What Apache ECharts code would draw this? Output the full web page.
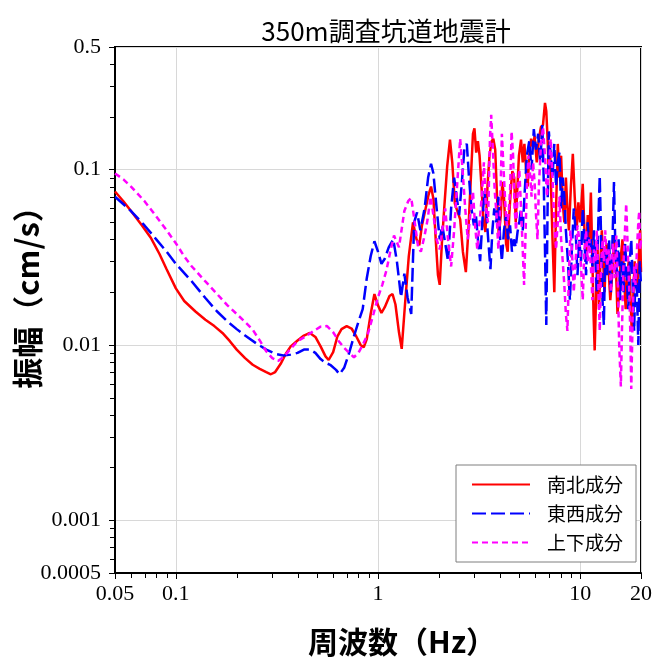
<!DOCTYPE html>
<html>
<head>
<meta charset="utf-8">
<script src="https://cdn.jsdelivr.net/npm/echarts@6/dist/echarts.min.js"></script>
<style>
html,body{margin:0;padding:0;background:#fff}
#chart{width:656px;height:657px}
</style>
</head>
<body>
<div id="chart"></div>
<script>
// Fourier amplitude spectra of the seismometer in the 350 m research gallery
const chartTitle = '350m調査坑道地震計';
const xAxisTitle = '周波数（Hz）';
const yAxisTitle = '振幅（cm/s）';
const seriesNames = ['南北成分', '東西成分', '上下成分'];

// [frequency (Hz), amplitude (cm/s)]
const nsData = [[0.05,0.075],[0.055,0.066],[0.06,0.058],[0.068,0.048],[0.075,0.041],[0.083,0.033],[0.09,0.027],[0.1,0.021],[0.11,0.0178],[0.125,0.0155],[0.14,0.0139],[0.155,0.0128],[0.17,0.0117],[0.185,0.0105],[0.2,0.0094],[0.22,0.0084],[0.24,0.0077],[0.26,0.0073],[0.28,0.0070],[0.295,0.0068],[0.31,0.0070],[0.33,0.0078],[0.35,0.0089],[0.37,0.0098],[0.4,0.0106],[0.43,0.0113],[0.46,0.0117],[0.49,0.0111],[0.52,0.0098],[0.55,0.0086],[0.57,0.0082],[0.6,0.0091],[0.63,0.0112],[0.66,0.0123],[0.7,0.0128],[0.74,0.0124],[0.78,0.0112],[0.82,0.0100],[0.85,0.0097],[0.88,0.0108],[0.92,0.0150],[0.96,0.0195],[1.0,0.0168],[1.04,0.0152],[1.08,0.0164],[1.14,0.0190],[1.18,0.0195],[1.22,0.0170],[1.27,0.0118],[1.31,0.0095],[1.36,0.0170],[1.42,0.032],[1.49,0.050],[1.55,0.040],[1.6,0.037],[1.65,0.048],[1.72,0.060],[1.78,0.072],[1.83,0.080],[1.88,0.068],[1.93,0.040],[1.98,0.025],[2.02,0.022],[2.07,0.038],[2.13,0.062],[2.2,0.105],[2.27,0.148],[2.33,0.110],[2.4,0.064],[2.47,0.058],[2.55,0.052],[2.63,0.034],[2.72,0.026],[2.8,0.045],[2.88,0.090],[2.95,0.160],[3.0,0.172],[3.06,0.125],[3.12,0.145],[3.18,0.120],[3.25,0.080],[3.33,0.050],[3.4,0.044],[3.48,0.080],[3.56,0.120],[3.65,0.145],[3.72,0.150],[3.8,0.130],[3.88,0.070],[3.96,0.042],[4.05,0.055],[4.12,0.085],[4.2,0.070],[4.3,0.038],[4.38,0.034],[4.46,0.055],[4.55,0.080],[4.62,0.098],[4.72,0.090],[4.8,0.050],[4.88,0.075],[4.98,0.120],[5.1,0.148],[5.2,0.110],[5.3,0.140],[5.4,0.100],[5.5,0.080],[5.6,0.120],[5.72,0.150],[5.85,0.135],[5.95,0.155],[6.1,0.110],[6.25,0.150],[6.4,0.175],[6.55,0.180],[6.7,0.240],[6.8,0.215],[6.9,0.150],[7.0,0.095],[7.1,0.130],[7.2,0.070],[7.3,0.040],[7.45,0.020],[7.6,0.060],[7.75,0.140],[7.9,0.090],[8.05,0.120],[8.2,0.065],[8.35,0.050],[8.5,0.090],[8.65,0.060],[8.8,0.045],[9.0,0.080],[9.2,0.123],[9.4,0.070],[9.6,0.045],[9.8,0.065],[10.0,0.050],[10.3,0.083],[10.5,0.045],[10.7,0.030],[10.9,0.055],[11.1,0.040],[11.3,0.074],[11.5,0.030],[11.65,0.015],[11.8,0.0093],[12.0,0.020],[12.2,0.035],[12.4,0.016],[12.6,0.030],[12.8,0.045],[13.0,0.030],[13.2,0.020],[13.5,0.038],[13.8,0.028],[14.1,0.018],[14.4,0.025],[14.7,0.042],[15.0,0.030],[15.3,0.015],[15.6,0.020],[15.9,0.032],[16.2,0.040],[16.5,0.024],[16.8,0.016],[17.1,0.025],[17.4,0.030],[17.7,0.020],[18.0,0.012],[18.3,0.018],[18.6,0.030],[18.9,0.022],[19.2,0.020],[19.5,0.032],[19.8,0.045],[20.0,0.026]];

const ewData = [[0.05,0.070],[0.06,0.058],[0.07,0.048],[0.08,0.040],[0.09,0.034],[0.1,0.029],[0.12,0.023],[0.14,0.0185],[0.16,0.0155],[0.18,0.0136],[0.2,0.0123],[0.22,0.0113],[0.25,0.0102],[0.28,0.0094],[0.31,0.0089],[0.34,0.0087],[0.37,0.0088],[0.40,0.0090],[0.43,0.0094],[0.46,0.0094],[0.49,0.0090],[0.52,0.0083],[0.55,0.0079],[0.58,0.0077],[0.62,0.0072],[0.645,0.0068],[0.68,0.0074],[0.72,0.0090],[0.76,0.0112],[0.8,0.0135],[0.84,0.016],[0.88,0.024],[0.92,0.032],[0.96,0.039],[1.0,0.034],[1.04,0.029],[1.08,0.031],[1.13,0.036],[1.19,0.040],[1.24,0.030],[1.30,0.0187],[1.35,0.0255],[1.40,0.0187],[1.46,0.015],[1.51,0.050],[1.56,0.057],[1.62,0.045],[1.7,0.060],[1.77,0.090],[1.83,0.108],[1.88,0.095],[1.95,0.060],[2.02,0.040],[2.08,0.048],[2.15,0.038],[2.22,0.030],[2.3,0.060],[2.38,0.090],[2.45,0.070],[2.52,0.055],[2.6,0.085],[2.68,0.135],[2.75,0.140],[2.82,0.090],[2.9,0.060],[2.98,0.048],[3.05,0.055],[3.12,0.040],[3.2,0.030],[3.28,0.050],[3.36,0.075],[3.44,0.055],[3.52,0.038],[3.6,0.027],[3.68,0.045],[3.76,0.060],[3.85,0.050],[3.94,0.070],[4.02,0.040],[4.1,0.030],[4.2,0.045],[4.3,0.055],[4.4,0.040],[4.5,0.048],[4.6,0.034],[4.7,0.040],[4.8,0.036],[4.9,0.044],[5.0,0.050],[5.1,0.060],[5.2,0.045],[5.3,0.070],[5.45,0.120],[5.6,0.145],[5.75,0.100],[5.9,0.170],[6.05,0.130],[6.2,0.160],[6.35,0.110],[6.5,0.180],[6.6,0.090],[6.7,0.035],[6.8,0.013],[6.9,0.060],[7.0,0.165],[7.15,0.120],[7.3,0.090],[7.45,0.140],[7.6,0.080],[7.75,0.110],[7.9,0.125],[8.05,0.060],[8.2,0.090],[8.35,0.070],[8.5,0.045],[8.7,0.030],[8.9,0.018],[9.1,0.035],[9.3,0.060],[9.5,0.045],[9.7,0.025],[9.9,0.040],[10.1,0.030],[10.3,0.060],[10.5,0.040],[10.7,0.025],[10.9,0.050],[11.1,0.035],[11.3,0.040],[11.5,0.028],[11.7,0.045],[11.9,0.030],[12.1,0.020],[12.3,0.050],[12.5,0.092],[12.7,0.040],[12.9,0.018],[13.1,0.013],[13.3,0.035],[13.6,0.025],[13.9,0.040],[14.2,0.020],[14.5,0.045],[14.7,0.085],[14.9,0.040],[15.2,0.025],[15.5,0.040],[15.8,0.018],[16.1,0.030],[16.4,0.020],[16.7,0.038],[17.0,0.025],[17.3,0.016],[17.6,0.030],[17.9,0.040],[18.2,0.022],[18.5,0.012],[18.8,0.028],[19.1,0.020],[19.4,0.010],[19.7,0.030],[20.0,0.022]];

const udData = [[0.05,0.095],[0.055,0.088],[0.06,0.080],[0.07,0.066],[0.08,0.054],[0.09,0.045],[0.1,0.038],[0.11,0.032],[0.12,0.028],[0.14,0.023],[0.16,0.0195],[0.18,0.0168],[0.2,0.0150],[0.22,0.0135],[0.24,0.0122],[0.26,0.0106],[0.28,0.0092],[0.3,0.0084],[0.32,0.0081],[0.34,0.0085],[0.37,0.0095],[0.4,0.0105],[0.44,0.0112],[0.48,0.0120],[0.52,0.0127],[0.56,0.0128],[0.6,0.0118],[0.64,0.0105],[0.68,0.0096],[0.72,0.0090],[0.76,0.0085],[0.8,0.0090],[0.84,0.0100],[0.89,0.0115],[0.95,0.015],[1.0,0.0187],[1.05,0.022],[1.1,0.0265],[1.15,0.034],[1.2,0.042],[1.27,0.036],[1.35,0.058],[1.41,0.066],[1.46,0.069],[1.52,0.050],[1.58,0.036],[1.63,0.034],[1.7,0.042],[1.76,0.052],[1.82,0.070],[1.88,0.055],[1.95,0.040],[2.02,0.035],[2.08,0.045],[2.15,0.060],[2.22,0.040],[2.3,0.028],[2.38,0.045],[2.46,0.080],[2.55,0.150],[2.62,0.100],[2.7,0.060],[2.78,0.040],[2.86,0.055],[2.95,0.075],[3.02,0.048],[3.1,0.035],[3.18,0.050],[3.26,0.070],[3.34,0.110],[3.42,0.060],[3.5,0.050],[3.58,0.150],[3.63,0.205],[3.7,0.130],[3.78,0.075],[3.86,0.055],[3.94,0.035],[4.02,0.060],[4.1,0.160],[4.18,0.100],[4.26,0.065],[4.34,0.048],[4.42,0.055],[4.5,0.075],[4.58,0.165],[4.66,0.120],[4.74,0.060],[4.82,0.045],[4.9,0.070],[5.0,0.100],[5.1,0.060],[5.2,0.035],[5.28,0.022],[5.36,0.040],[5.45,0.080],[5.55,0.120],[5.65,0.095],[5.75,0.070],[5.85,0.110],[5.95,0.085],[6.05,0.055],[6.15,0.040],[6.25,0.080],[6.4,0.140],[6.55,0.175],[6.7,0.120],[6.85,0.070],[7.0,0.100],[7.15,0.150],[7.3,0.090],[7.45,0.050],[7.6,0.035],[7.75,0.050],[7.9,0.070],[8.05,0.040],[8.2,0.030],[8.35,0.022],[8.5,0.015],[8.65,0.012],[8.8,0.025],[8.95,0.045],[9.1,0.035],[9.3,0.020],[9.5,0.030],[9.7,0.048],[9.9,0.040],[10.1,0.028],[10.3,0.018],[10.5,0.035],[10.7,0.045],[10.9,0.030],[11.1,0.040],[11.3,0.028],[11.5,0.018],[11.7,0.035],[11.9,0.030],[12.1,0.045],[12.3,0.022],[12.5,0.012],[12.7,0.028],[12.9,0.040],[13.1,0.030],[13.3,0.045],[13.6,0.028],[13.9,0.035],[14.2,0.020],[14.5,0.038],[14.8,0.024],[15.1,0.042],[15.4,0.020],[15.6,0.010],[15.9,0.0058],[16.1,0.012],[16.4,0.030],[16.9,0.064],[17.2,0.035],[17.5,0.020],[17.7,0.012],[17.9,0.0056],[18.2,0.015],[18.5,0.028],[18.8,0.022],[19.1,0.035],[19.4,0.050],[19.6,0.058],[19.8,0.035],[20.0,0.040]];

// axis ranges and minor (2..9 per decade) tick positions
const xRange = [0.05, 20];
const yRange = [0.0005, 0.5];
const xMinorTicks = [0.06,0.07,0.08,0.09,0.2,0.3,0.4,0.5,0.6,0.7,0.8,0.9,2,3,4,5,6,7,8,9];
const yMinorTicks = [0.0006,0.0007,0.0008,0.0009,0.002,0.003,0.004,0.005,0.006,0.007,0.008,0.009,0.02,0.03,0.04,0.05,0.06,0.07,0.08,0.09,0.2,0.3,0.4];

const colors = ['#ff0000', '#0000ff', '#ff00ff'];
const serif = '"Liberation Serif", "DejaVu Serif", serif';
const gothic = '"Noto Sans CJK JP", "Noto Sans", sans-serif';

const fmt = v => String(parseFloat(Number(v).toPrecision(3)));

const chart = echarts.init(document.getElementById('chart'), null, { renderer: 'canvas' });

const lineSeries = (name, data, color, type) => ({
  name, type: 'line', data,
  symbol: 'none', smooth: false, clip: true,
  lineStyle: { color, width: 2.5, type },
  itemStyle: { color },
  emphasis: { disabled: true },
  animation: false
});

chart.setOption({
  animation: false,
  backgroundColor: '#ffffff',
  title: {
    text: chartTitle, left: 381, top: 13, textAlign: 'center',
    textStyle: { fontFamily: gothic, fontSize: 26, fontWeight: 'normal', color: '#000' }
  },
  grid: {
    left: 115, right: 15, top: 47, bottom: 84,
    containLabel: false, outerBoundsMode: 'none',
    show: true, borderColor: '#000', borderWidth: 2, backgroundColor: 'transparent'
  },
  legend: {
    orient: 'vertical', left: 456, top: 465,
    itemWidth: 58, itemHeight: 14, itemGap: 10,
    padding: [10, 13, 10, 15],
    backgroundColor: '#ffffff', borderColor: '#7f7f7f', borderWidth: 1, borderRadius: 0,
    itemStyle: { color: 'transparent', borderColor: 'transparent', borderWidth: 0, opacity: 0 },
    textStyle: { fontFamily: gothic, fontSize: 19, color: '#000', padding: [0, 0, 0, 12] },
    data: seriesNames
  },
  xAxis: {
    type: 'log', logBase: 10, min: xRange[0], max: xRange[1],
    name: xAxisTitle, nameLocation: 'middle', nameGap: 54, nameMoveOverlap: false,
    nameTextStyle: { fontFamily: gothic, fontSize: 30, fontWeight: 'bold', color: '#000', padding: [0, 0, 0, 48] },
    axisLine: { show: true, lineStyle: { color: '#000', width: 2 } },
    axisTick: { show: true, inside: false, length: 6, lineStyle: { color: '#000', width: 1 } },
    axisLabel: { fontFamily: serif, fontSize: 22, color: '#000', margin: 10, formatter: fmt, showMinLabel: true, showMaxLabel: true },
    splitLine: { show: true, lineStyle: { color: '#d8d8d8', width: 1 } },
    minorTick: { show: false }
  },
  yAxis: {
    type: 'log', logBase: 10, min: yRange[0], max: yRange[1],
    name: yAxisTitle, nameLocation: 'middle', nameRotate: 90, nameGap: 72, nameMoveOverlap: false,
    nameTextStyle: { fontFamily: gothic, fontSize: 31, fontWeight: 'bold', color: '#000', padding: [0, 0, 0, 40] },
    axisLine: { show: true, lineStyle: { color: '#000', width: 2 } },
    axisTick: { show: true, inside: false, length: 6, lineStyle: { color: '#000', width: 1 } },
    axisLabel: { fontFamily: serif, fontSize: 22, color: '#000', margin: 14, formatter: fmt, showMinLabel: true, showMaxLabel: true },
    splitLine: { show: true, lineStyle: { color: '#d8d8d8', width: 1 } },
    minorTick: { show: false }
  },
  series: [
    lineSeries(seriesNames[0], nsData, colors[0], 'solid'),
    lineSeries(seriesNames[1], ewData, colors[1], [14, 5]),
    lineSeries(seriesNames[2], udData, colors[2], [6, 4])
  ]
});

// logarithmic minor ticks placed through the axes' own scales
function drawMinorTicks() {
  const x0 = chart.convertToPixel({ xAxisIndex: 0 }, xRange[0]);
  const y0 = chart.convertToPixel({ yAxisIndex: 0 }, yRange[0]);
  const elems = [];
  xMinorTicks.forEach(v => {
    const px = Math.round(chart.convertToPixel({ xAxisIndex: 0 }, v)) + 0.5;
    elems.push({ type: 'line', silent: true, z: 10, shape: { x1: px, y1: y0, x2: px, y2: y0 + 5 }, style: { stroke: '#000', lineWidth: 1 } });
  });
  yMinorTicks.forEach(v => {
    const py = Math.round(chart.convertToPixel({ yAxisIndex: 0 }, v)) + 0.5;
    elems.push({ type: 'line', silent: true, z: 10, shape: { x1: x0 - 5, y1: py, x2: x0, y2: py }, style: { stroke: '#000', lineWidth: 1 } });
  });
  chart.setOption({ graphic: elems });
}
drawMinorTicks();
</script>
</body>
</html>
